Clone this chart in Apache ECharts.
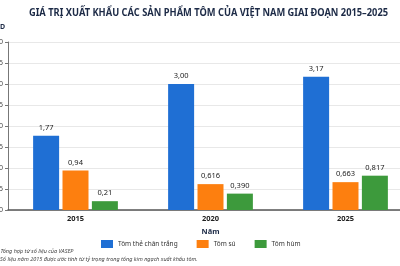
<!DOCTYPE html>
<html>
<head>
<meta charset="utf-8">
<script src="https://cdn.jsdelivr.net/npm/echarts@6/dist/echarts.min.js"></script>
<style>
  html, body { margin: 0; padding: 0; overflow: hidden; background: #fff; }
  #wrap { position: relative; width: 400px; height: 266px; overflow: hidden; }
  /* chart is a bit wider than the picture, left/right edges are cut like in the reference */
  #chart { position: absolute; left: -40px; top: 0; width: 460px; height: 266px; }
</style>
</head>
<body>
<div id="wrap"><div id="chart"></div></div>
<script>
var years = ['2015', '2020', '2025']
var seriesNames = ['Tôm thẻ chân trắng', 'Tôm sú', 'Tôm hùm']
var valuesWhite = [1.77, 3.00, 3.17]
var valuesTiger = [0.94, 0.616, 0.663]
var valuesLobster = [0.21, 0.390, 0.817]
var labelsWhite = ['1,77', '3,00', '3,17']
var labelsTiger = ['0,94', '0,616', '0,663']
var labelsLobster = ['0,21', '0,390', '0,817']
var yTicks = [0, 0.5, 1, 1.5, 2, 2.5, 3, 3.5, 4]

var colors = ['#1f6fd4', '#fd7f0f', '#3d9a3c']
var myChart = echarts.init(document.getElementById('chart'))

function barSeries(name, data, labels, color) {
  return {
    name: name,
    type: 'bar',
    barWidth: 26,
    barGap: '13%',
    itemStyle: { color: color },
    label: {
      show: true,
      position: 'top',
      distance: 4,
      fontSize: 7.5,
      color: '#222',
      fontFamily: 'Noto Sans',
      formatter: function(p) {
        return labels[p.dataIndex]
      }
    },
    data: data
  }
}

var option = {
  animation: false,
  textStyle: { fontFamily: 'Noto Sans' },
  graphic: [
    {
      type: 'text',
      left: 69,
      top: 8,
      scaleX: 0.93,
      style: {
        text: 'GIÁ TRỊ XUẤT KHẨU CÁC SẢN PHẨM TÔM CỦA VIỆT NAM GIAI ĐOẠN 2015–2025',
        font: 'bold 10px "Noto Sans"',
        fill: '#1c2a46'
      }
    },
    {
      type: 'text',
      right: 415,
      top: 23,
      style: { text: 'Tỷ USD', font: 'bold 7px "Noto Sans"', fill: '#1c2a46' }
    },
    {
      type: 'text',
      left: 21,
      top: 248,
      style: {
        text: 'Nguồn: Tổng hợp từ số liệu của VASEP',
        font: 'italic 5.5px "Noto Sans"',
        fill: '#444'
      }
    },
    {
      type: 'text',
      left: 24,
      top: 256,
      style: {
        text: 'Lưu ý: Số liệu năm 2015 được ước tính từ tỷ trọng trong tổng kim ngạch xuất khẩu tôm.',
        font: 'italic 5.5px "Noto Sans"',
        fill: '#444'
      }
    }
  ],
  legend: {
    top: 235,
    left: 136,
    itemWidth: 12,
    itemHeight: 8,
    itemGap: 19,
    icon: 'rect',
    textStyle: { fontSize: 6.5, color: '#333' },
    data: seriesNames
  },
  grid: { left: 48, right: 7, top: 42, bottom: 56 },
  xAxis: {
    type: 'category',
    data: years,
    name: 'Năm',
    nameLocation: 'middle',
    nameGap: 18,
    nameTextStyle: { fontSize: 7.5, fontWeight: 'bold', color: '#1c2a46' },
    axisLine: { lineStyle: { color: '#555', width: 1.5 } },
    axisTick: { show: false },
    axisLabel: { fontSize: 7.5, fontWeight: 'bold', color: '#222', margin: 5 }
  },
  yAxis: {
    type: 'value',
    min: 0,
    max: 4,
    interval: 0.5,
    axisLine: { show: true, lineStyle: { color: '#777' } },
    axisTick: { show: true, length: 3, lineStyle: { color: '#777' } },
    axisLabel: {
      fontSize: 7,
      color: '#444',
      margin: 5,
      formatter: function(v) {
        return yTicks.indexOf(v) >= 0 ? v.toFixed(1).replace('.', ',') : ''
      }
    },
    splitLine: { lineStyle: { color: '#e8e8e8' } }
  },
  series: [
    barSeries(seriesNames[0], valuesWhite, labelsWhite, colors[0]),
    barSeries(seriesNames[1], valuesTiger, labelsTiger, colors[1]),
    barSeries(seriesNames[2], valuesLobster, labelsLobster, colors[2])
  ]
}
myChart.setOption(option)
</script>
</body>
</html>
